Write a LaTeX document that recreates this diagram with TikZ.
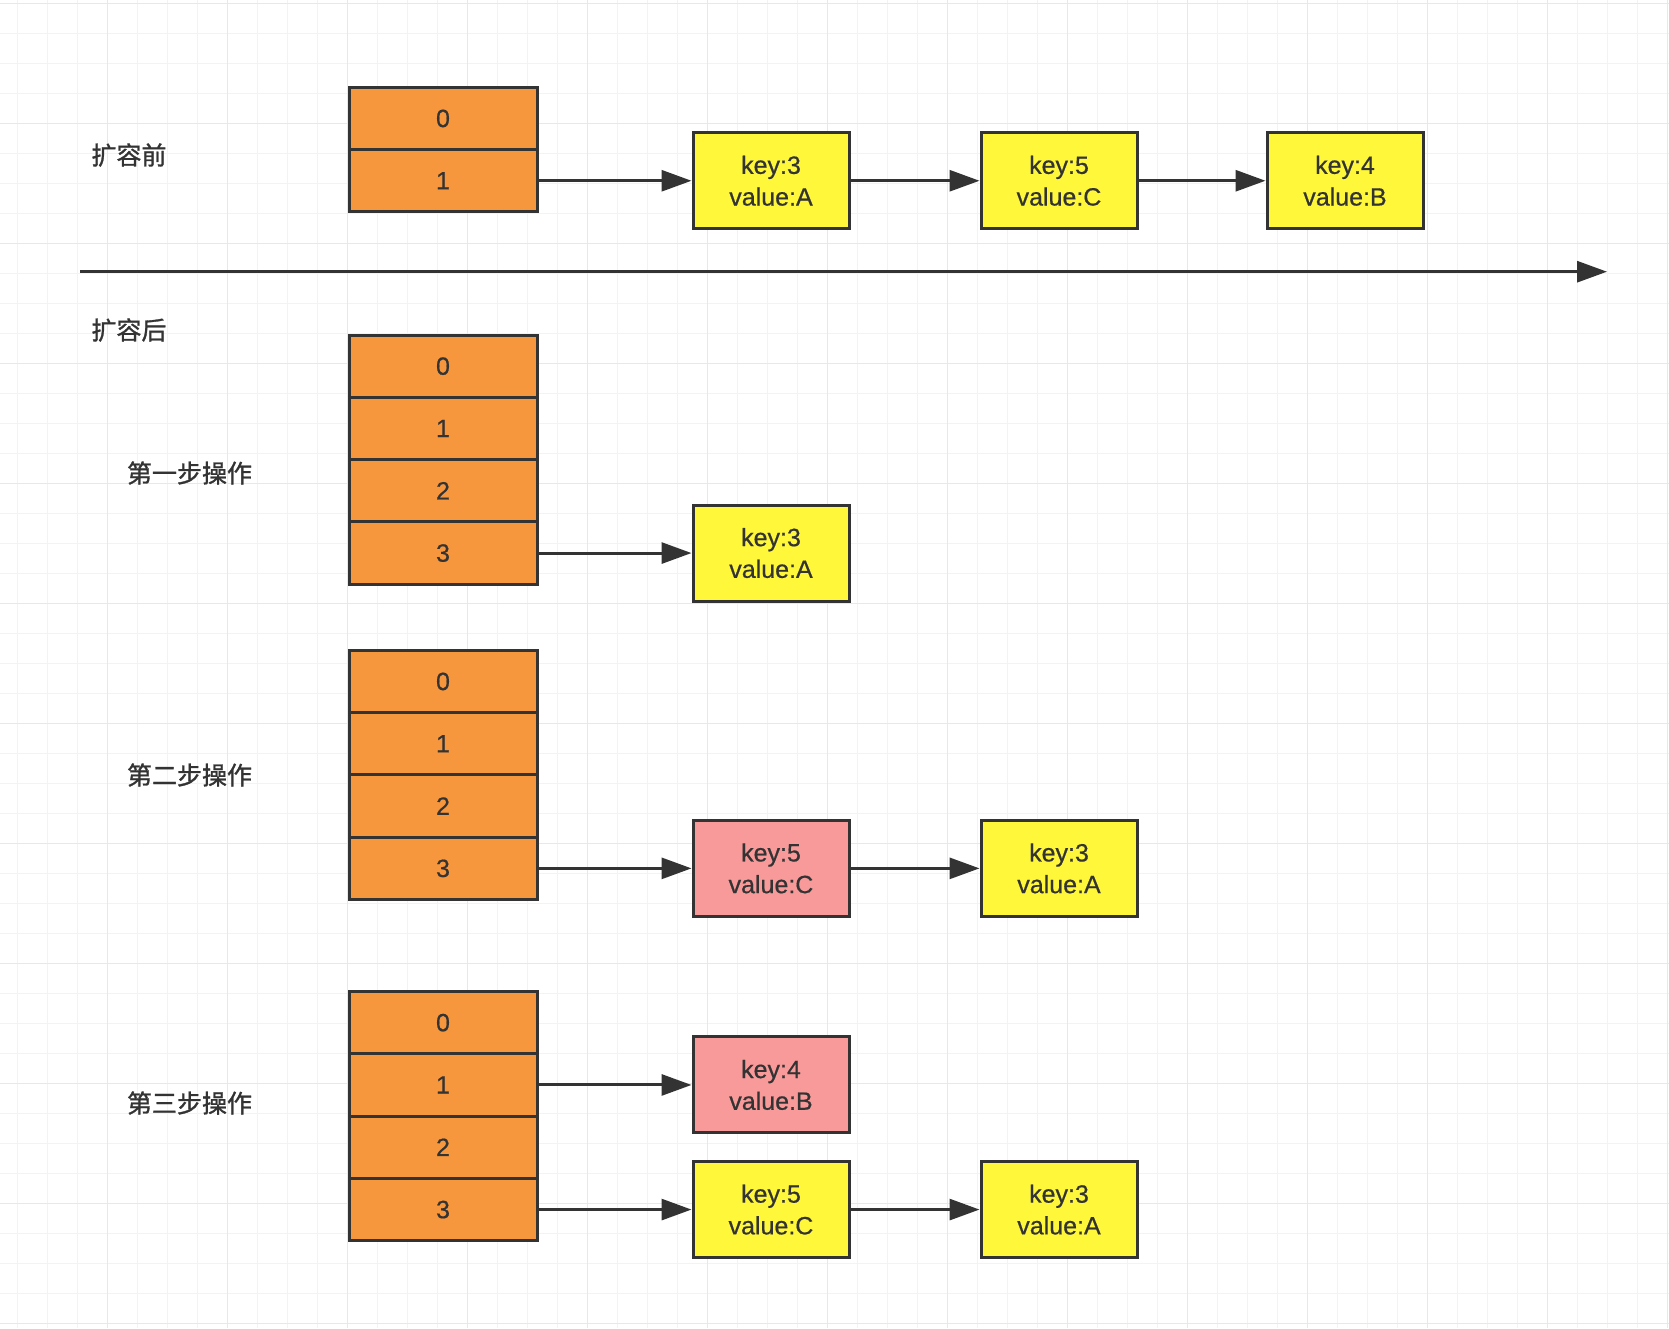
\documentclass[tikz,border=0pt]{standalone}
\usepackage{fontspec}
\setmainfont[FakeBold=0.6]{Liberation Sans}
\newfontfamily\zhfont[FakeBold=1.2]{Noto Sans CJK SC}
\usetikzlibrary{arrows.meta,positioning}
\definecolor{cellorange}{HTML}{F7973D}
\definecolor{entryyellow}{HTML}{FFF83A}
\definecolor{entrypink}{HTML}{F99A9A}
\definecolor{linegray}{HTML}{333333}
\definecolor{gridminor}{HTML}{F3F3F3}
\definecolor{gridmajor}{HTML}{E8E8E8}
\begin{document}
\begin{tikzpicture}[
	                      x = 1pt,
	                      y = -1pt,
	      every node/.style = {font=\fontsize{25}{31.7}\selectfont, text=linegray},
	            cell/.style = {draw=linegray, line width=3pt, fill=cellorange, minimum width=188pt, minimum height=62.3pt, inner sep=0pt},
	           entry/.style = {draw=linegray, line width=3pt, fill=entryyellow, minimum width=156pt, minimum height=96pt, inner sep=0pt, align=center},
	           moved/.style = {entry, fill=entrypink},
	            link/.style = {draw=linegray, line width=3pt, -{Triangle[length=30pt,width=21pt]}},
	      phaselabel/.style = {font=\zhfont\fontsize{25}{30}\selectfont},
	        gridline/.style = {line width=1.5pt},
	          node distance = 153pt and 153pt
	                     ]
		\fill[white] (0,0) rectangle (1669,1328);
		\useasboundingbox (0,0) rectangle (1669,1328);
		\foreach \gx in {0,...,55} \draw[gridline, gridminor] ({17.3+30*\gx},0) -- ++(0,1328);
		\foreach \gy in {0,...,44} \draw[gridline, gridminor] (0,{3.3+30*\gy}) -- ++(1669,0);
		\foreach \gx in {0,...,13} \draw[gridline, gridmajor] ({107.3+120*\gx},0) -- ++(0,1328);
		\foreach \gy in {0,...,11} \draw[gridline, gridmajor] (0,{3.3+120*\gy}) -- ++(1669,0);

		\node[phaselabel] (before) at (129,155) {扩容前};
		\node[phaselabel] (after) at (129,330) {扩容后};
		\node[phaselabel] (step1) at (189.5,473) {第一步操作};
		\node[phaselabel] (step2) at (189.5,775) {第二步操作};
		\node[phaselabel] (step3) at (189.5,1103) {第三步操作};

		\foreach \i in {0,1} \node[cell] (old-\i) at (443,{118.45+62.3*\i}) {\i};
		\foreach \i in {0,...,3} \node[cell] (sa-\i) at (443,{366.15+62.3*\i}) {\i};
		\foreach \i in {0,...,3} \node[cell] (sb-\i) at (443,{681.45+62.3*\i}) {\i};
		\foreach \i in {0,...,3} \node[cell] (sc-\i) at (443,{1022.65+62.3*\i}) {\i};

		\node[entry, right=of old-1] (oldA) {key:3\\value:A};
		\node[entry, right=129pt of oldA] (oldC) {key:5\\value:C};
		\node[entry, right=127pt of oldC] (oldB) {key:4\\value:B};
		\draw[link] (old-1) -- (oldA);
		\draw[link] (oldA) -- (oldC);
		\draw[link] (oldC) -- (oldB);

		\coordinate (axisstart) at (80,271.7);
		\coordinate (axisend) at (1607,271.7);
		\draw[link] (axisstart) -- (axisend);

		\node[entry, right=of sa-3] (saA) {key:3\\value:A};
		\draw[link] (sa-3) -- (saA);

		\node[moved, right=of sb-3] (sbC) {key:5\\value:C};
		\node[entry, right=129pt of sbC] (sbA) {key:3\\value:A};
		\draw[link] (sb-3) -- (sbC);
		\draw[link] (sbC) -- (sbA);

		\node[moved, right=of sc-1] (scB) {key:4\\value:B};
		\node[entry, right=of sc-3] (scC) {key:5\\value:C};
		\node[entry, right=129pt of scC] (scA) {key:3\\value:A};
		\draw[link] (sc-1) -- (scB);
		\draw[link] (sc-3) -- (scC);
		\draw[link] (scC) -- (scA);
\end{tikzpicture}
\end{document}
